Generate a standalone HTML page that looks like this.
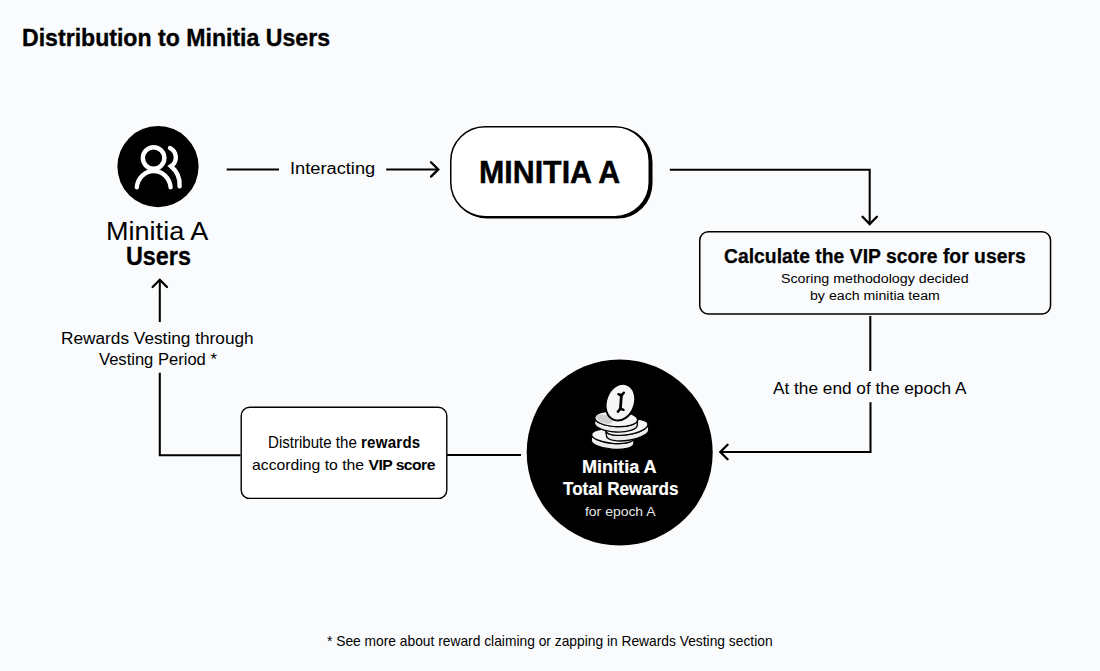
<!DOCTYPE html>
<html><head><meta charset="utf-8"><style>
html,body{margin:0;padding:0;}
body{width:1100px;height:671px;background:#fafbfd;position:relative;overflow:hidden;font-family:"Liberation Sans",sans-serif;}
.t{position:absolute;white-space:nowrap;transform-origin:0 0;}
.t b{font-weight:700;}
svg{position:absolute;left:0;top:0;}
</style></head><body>
<svg width="1100" height="671" viewBox="0 0 1100 671">
<g fill="none" stroke="#000" stroke-width="2.05">
  <!-- interacting lines -->
  <line x1="226.7" y1="169.4" x2="279" y2="169.4"/>
  <line x1="386.2" y1="169.4" x2="438" y2="169.4"/>
  <polyline stroke-linecap="round" stroke-width="2.3" points="431,162.2 438.3,169.4 431,176.6" />
  <!-- minitia -> vip -->
  <polyline points="669.8,169.7 869.7,169.7 869.7,223.5"/>
  <polyline stroke-linecap="round" stroke-width="2.3" points="862.5,216.7 869.7,224 876.9,216.7"/>
  <!-- vip -> epoch text -->
  <line x1="870.3" y1="316" x2="870.3" y2="371"/>
  <polyline points="870.5,402.3 870.5,452 720,452"/>
  <polyline stroke-linecap="round" stroke-width="2.3" points="727.6,444.8 720.3,452 727.6,459.2"/>
  <!-- circle -> distribute -->
  <line x1="447" y1="455" x2="521" y2="455"/>
  <polyline points="240.5,455.2 159.8,455.2 159.8,372.7"/>
  <line x1="159.8" y1="322" x2="159.8" y2="279.5"/>
  <polyline stroke-linecap="round" stroke-width="2.3" points="152.6,287 159.8,279.8 167,287"/>
</g>
<!-- users circle -->
<circle cx="158" cy="166.6" r="40.6" fill="#000"/>
<g fill="none" stroke="#ffffff" stroke-width="4.4" stroke-linecap="round" stroke-linejoin="miter">
  <circle cx="153.6" cy="158" r="10.75"/>
  <path d="M136.8 187.2 A17 18.2 0 0 1 170.6 187.2"/>
  <path d="M170 148 A10.5 10.5 0 0 1 171 166.2 A24 24 0 0 1 179.6 186.3"/>
</g>
<!-- minitia box -->
<rect x="452.5" y="127.2" width="200" height="91.4" rx="35" fill="#000"/>
<rect x="450.75" y="126.75" width="198.5" height="89.9" rx="34.3" fill="#ffffff" stroke="#000" stroke-width="1.5"/>
<!-- vip box -->
<rect x="699.75" y="231.75" width="350.8" height="82.3" rx="8.5" fill="#fafbfd" stroke="#000" stroke-width="1.5"/>
<!-- distribute box -->
<rect x="241.2" y="407.2" width="205.6" height="91.2" rx="8.5" fill="#ffffff" stroke="#000" stroke-width="1.4"/>
<!-- rewards circle -->
<circle cx="619.7" cy="452.5" r="93" fill="#000"/>
<!-- coins -->
<g>
<g transform="rotate(5 613.0 436.2)"><path d="M591.60 436.20 A21.4 7.2 0 0 0 634.40 436.20 L634.40 442.00 A21.4 7.2 0 0 1 591.60 442.00 Z" fill="#ececec" stroke="#000" stroke-width="1.3"/><ellipse cx="613.0" cy="436.2" rx="21.4" ry="7.2" fill="#f6f6f6" stroke="#000" stroke-width="1.3"/></g>
<g transform="rotate(-9 626.8 427.2)"><path d="M605.40 427.20 A21.4 7.6 0 0 0 648.20 427.20 L648.20 432.80 A21.4 7.6 0 0 1 605.40 432.80 Z" fill="#ececec" stroke="#000" stroke-width="1.3"/><ellipse cx="626.8" cy="427.2" rx="21.4" ry="7.6" fill="#f6f6f6" stroke="#000" stroke-width="1.3"/></g>
<g transform="rotate(3 616.2 418.8)"><path d="M594.80 418.80 A21.4 7.8 0 0 0 637.60 418.80 L637.60 424.20 A21.4 7.8 0 0 1 594.80 424.20 Z" fill="#ececec" stroke="#000" stroke-width="1.3"/><ellipse cx="616.2" cy="418.8" rx="21.4" ry="7.8" fill="#f6f6f6" stroke="#000" stroke-width="1.3"/></g>
<ellipse cx="604.5" cy="419" rx="8.5" ry="4.2" transform="rotate(15 604.5 419)" fill="#cfcfcf"/>
<ellipse cx="620.4" cy="402.2" rx="14.2" ry="18.8" transform="rotate(20 620.4 402.2)" fill="#f6f6f6" stroke="#000" stroke-width="2"/>
<g stroke="#000" stroke-linecap="round" stroke-linejoin="round" fill="none"><path d="M621.4 395 L620.4 409" stroke-width="2.8"/><path d="M618.5 394.2 L621.4 395.6 L623.8 392.7" stroke-width="2.5"/><path d="M617.9 411.6 L620.4 408.6 L623.5 409.8" stroke-width="2.5"/></g>
</g>
</svg>

<div id="t_title" class="t" style="left:22.01px;top:26.81px;font-size:23.26px;line-height:23.26px;font-weight:700;color:#000000;transform:scaleX(0.9935);-webkit-text-stroke:0.35px #000000">Distribution to Minitia Users</div>
<div id="t_minA" class="t" style="left:105.55px;top:217.90px;font-size:26.45px;line-height:26.45px;font-weight:400;color:#000000;transform:scaleX(1.0235)">Minitia A</div>
<div id="t_users" class="t" style="left:125.92px;top:244.06px;font-size:25.44px;line-height:25.44px;font-weight:700;color:#000000;transform:scaleX(0.9179);-webkit-text-stroke:0.3px #000000">Users</div>
<div id="t_inter" class="t" style="left:289.75px;top:160.07px;font-size:16.22px;line-height:16.22px;font-weight:400;color:#000000;transform:scaleX(1.1260)">Interacting</div>
<div id="t_minitia" class="t" style="left:479.08px;top:156.67px;font-size:31.69px;line-height:31.69px;font-weight:700;color:#000000;transform:scaleX(0.9584);-webkit-text-stroke:0.45px #000000">MINITIA A</div>
<div id="t_calc" class="t" style="left:724.02px;top:245.77px;font-size:20.35px;line-height:20.35px;font-weight:700;color:#000000;transform:scaleX(0.9506);-webkit-text-stroke:0.25px #000000">Calculate the VIP score for users</div>
<div id="t_scor1" class="t" style="left:781.14px;top:271.60px;font-size:13.23px;line-height:13.23px;font-weight:400;color:#000000;transform:scaleX(1.0775)">Scoring methodology decided</div>
<div id="t_scor2" class="t" style="left:809.93px;top:289.30px;font-size:13.23px;line-height:13.23px;font-weight:400;color:#000000;transform:scaleX(1.0708)">by each minitia team</div>
<div id="t_epoch" class="t" style="left:772.56px;top:379.82px;font-size:16.28px;line-height:16.28px;font-weight:400;color:#000000;transform:scaleX(1.0594)">At the end of the epoch A</div>
<div id="t_rmin" class="t" style="left:582.43px;top:458.07px;font-size:18.46px;line-height:18.46px;font-weight:700;color:#ffffff;transform:scaleX(0.9798);-webkit-text-stroke:0.2px #ffffff">Minitia A</div>
<div id="t_rtot" class="t" style="left:563.18px;top:480.27px;font-size:18.46px;line-height:18.46px;font-weight:700;color:#ffffff;transform:scaleX(0.9258);-webkit-text-stroke:0.2px #ffffff">Total Rewards</div>
<div id="t_rfor" class="t" style="left:585.19px;top:504.95px;font-size:13.52px;line-height:13.52px;font-weight:400;color:#e6e6e6;transform:scaleX(1.0309)">for epoch A</div>
<div id="t_dist1" class="t" style="left:267.86px;top:434.89px;font-size:15.84px;line-height:15.84px;font-weight:400;color:#000000;transform:scaleX(0.9521)">Distribute the <b style="letter-spacing:0.25px">rewards</b></div>
<div id="t_dist2" class="t" style="left:251.96px;top:457.00px;font-size:15.12px;line-height:15.12px;font-weight:400;color:#000000;transform:scaleX(1.0426)">according to the <b style="letter-spacing:-0.55px">VIP score</b></div>
<div id="t_vest1" class="t" style="left:61.04px;top:331.29px;font-size:15.84px;line-height:15.84px;font-weight:400;color:#000000;transform:scaleX(1.0897)">Rewards Vesting through</div>
<div id="t_vest2" class="t" style="left:98.60px;top:351.69px;font-size:15.84px;line-height:15.84px;font-weight:400;color:#000000;transform:scaleX(1.0464)">Vesting Period *</div>
<div id="t_foot" class="t" style="left:327.21px;top:633.76px;font-size:14.10px;line-height:14.10px;font-weight:400;color:#000000;transform:scaleX(0.9789)">* See more about reward claiming or zapping in Rewards Vesting section</div>
</body></html>
